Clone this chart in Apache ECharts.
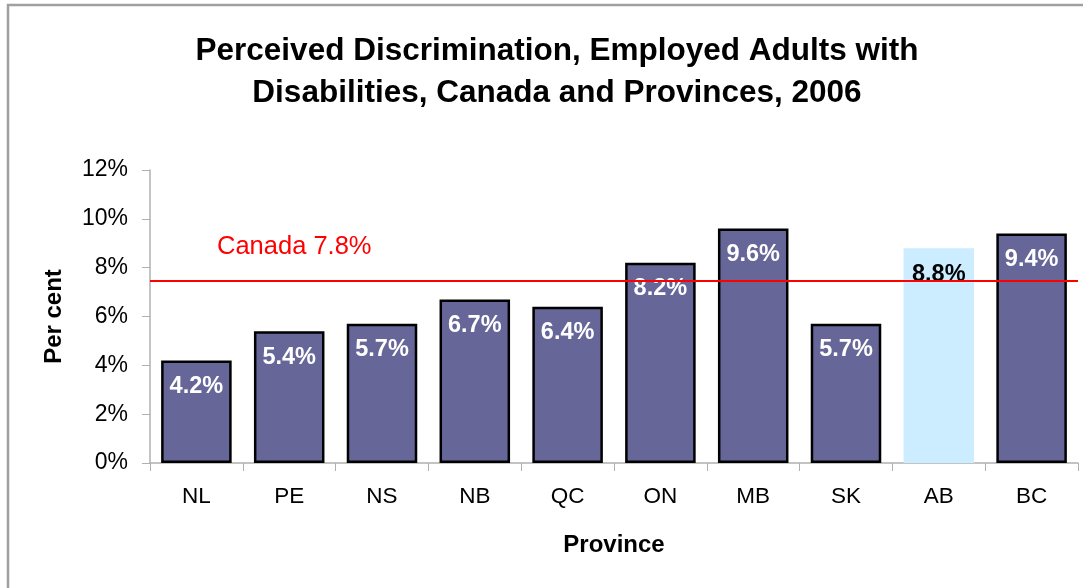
<!DOCTYPE html>
<html>
<head>
<meta charset="utf-8">
<script src="https://cdn.jsdelivr.net/npm/echarts@6/dist/echarts.min.js"></script>
<style>
html,body{margin:0;padding:0;background:#fff;}
#chart{width:1083px;height:588px;}
</style>
</head>
<body>
<div id="chart"></div>
<script>
const categories = ['NL','PE','NS','NB','QC','ON','MB','SK','AB','BC'];
const values = [4.2, 5.4, 5.7, 6.7, 6.4, 8.2, 9.6, 5.7, 8.8, 9.4];
const highlighted = ['AB'];
const canadaLineValue = 7.45;
const canadaLabel = 'Canada 7.8%';
const yTicks = [0, 2, 4, 6, 8, 10, 12];

const chart = echarts.init(document.getElementById('chart'));
const FONT = '"Liberation Sans", Arial, sans-serif';

const data = categories.map((c, i) => {
  const hi = highlighted.includes(c);
  return {
    value: values[i],
    itemStyle: hi ? { color: '#CCECFF', borderWidth: 0 } : undefined,
    label: hi ? { color: '#000' } : undefined
  };
});

chart.setOption({
  animation: false,
  backgroundColor: '#fff',
  graphic: [{
    type: 'rect',
    shape: { x: 8, y: 5, width: 1300, height: 800 },
    style: { fill: 'none', stroke: '#a0a0a0', lineWidth: 2.5 },
    silent: true, z: -1
  }],
  title: {
    text: 'Perceived Discrimination, Employed Adults with\nDisabilities, Canada and Provinces, 2006',
    left: 552, top: 25, textAlign: 'center',
    textStyle: { fontFamily: FONT, fontWeight: 'bold', fontSize: 31.5, lineHeight: 42, color: '#000' }
  },
  grid: { left: 150, right: 5, top: 170, bottom: 125 },
  xAxis: {
    type: 'category',
    data: categories,
    name: 'Province',
    nameLocation: 'middle',
    nameGap: 70,
    nameTextStyle: { fontFamily: FONT, fontWeight: 'bold', fontSize: 24, color: '#000' },
    axisLine: { lineStyle: { color: '#b0b0b0', width: 1.5 } },
    axisTick: { show: true, length: 8, lineStyle: { color: '#b0b0b0' } },
    axisLabel: { fontFamily: FONT, fontSize: 22.5, color: '#000', margin: 22 }
  },
  yAxis: {
    type: 'value',
    min: yTicks[0], max: yTicks[yTicks.length - 1], interval: 2,
    name: 'Per cent',
    nameLocation: 'middle',
    nameGap: 84,
    nameTextStyle: { fontFamily: FONT, fontWeight: 'bold', fontSize: 24, color: '#000' },
    axisLine: { show: true, lineStyle: { color: '#b0b0b0', width: 1.5 } },
    axisTick: { show: true, length: 8, lineStyle: { color: '#b0b0b0' } },
    splitLine: { show: false },
    axisLabel: { fontFamily: FONT, fontSize: 23, color: '#000', margin: 22, formatter: '{value}%' }
  },
  series: [{
    type: 'bar',
    data: data,
    barCategoryGap: '24%',
    itemStyle: { color: '#666699', borderColor: '#000', borderWidth: 2.5 },
    label: {
      show: true, position: 'insideTop', distance: 14,
      formatter: p => p.value.toFixed(1) + '%',
      fontFamily: FONT, fontWeight: 'bold', fontSize: 23.5, color: '#fff'
    },
    markLine: {
      silent: true,
      symbol: ['none', 'none'],
      lineStyle: { color: '#ff0000', width: 2, type: 'solid' },
      label: {
        show: true, position: 'insideStartTop', formatter: canadaLabel,
        distance: [67, 21],
        fontFamily: FONT, fontSize: 25.5, color: '#ff0000'
      },
      data: [{ yAxis: canadaLineValue }]
    }
  }]
});
</script>
</body>
</html>
